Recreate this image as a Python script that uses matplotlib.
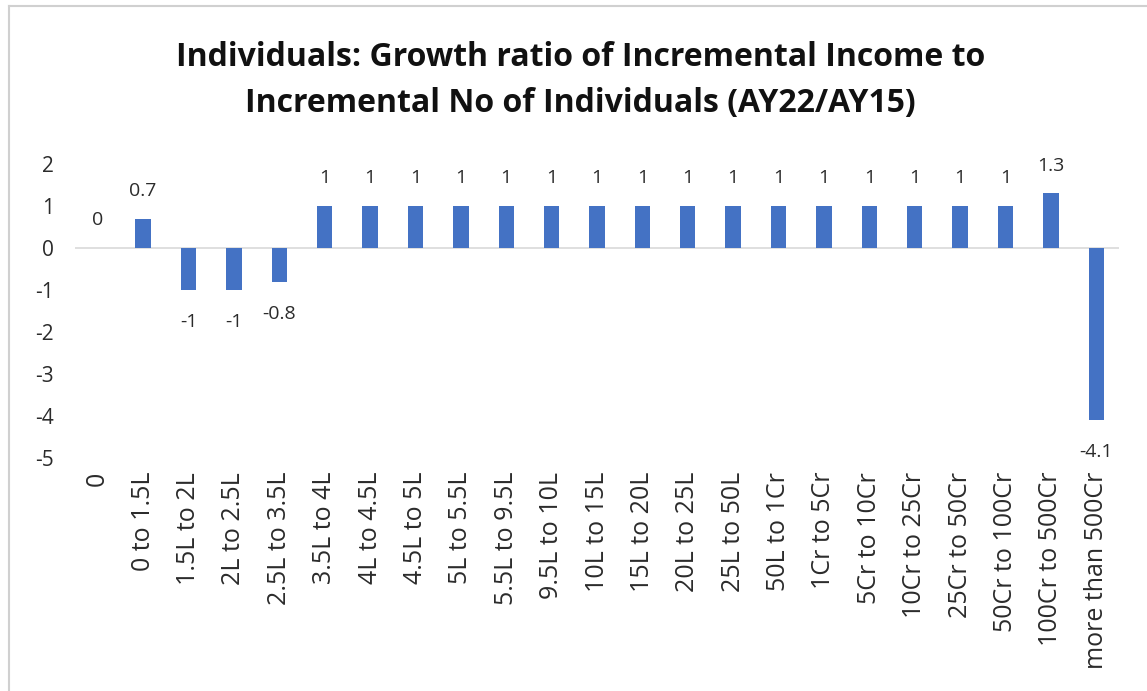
import matplotlib
matplotlib.use('Agg')
import matplotlib.pyplot as plt
from matplotlib.lines import Line2D
import numpy as np

# Income slabs and ratio of incremental income to incremental no. of individuals
slabs = ['0', '0 to 1.5L', '1.5L to 2L', '2L to 2.5L', '2.5L to 3.5L', '3.5L to 4L',
         '4L to 4.5L', '4.5L to 5L', '5L to 5.5L', '5.5L to 9.5L', '9.5L to 10L',
         '10L to 15L', '15L to 20L', '20L to 25L', '25L to 50L', '50L to 1Cr',
         '1Cr to 5Cr', '5Cr to 10Cr', '10Cr to 25Cr', '25Cr to 50Cr', '50Cr to 100Cr',
         '100Cr to 500Cr', 'more than 500Cr']
ratio = [0, 0.7, -1, -1, -0.8, 1, 1, 1, 1, 1, 1, 1, 1, 1, 1, 1, 1, 1, 1, 1, 1, 1.3, -4.1]

yticks = [-5, -4, -3, -2, -1, 0, 1, 2]

plt.rcParams['font.family'] = ['Open Sans', 'DejaVu Sans']

fig = plt.figure(figsize=(11.47, 6.91), dpi=100)
W, H = 1147, 691

ax = fig.add_axes([75 / W, 1 - 458 / H, 1044 / W, 294 / H])

x = np.arange(len(slabs))
ax.bar(x, ratio, width=0.34, color='#4472C4', zorder=3)
ax.axhline(0, color='#D9D9D9', linewidth=1.2, zorder=2)

for xi, v in zip(x, ratio):
    txt = '%g' % v
    if v >= 0:
        ax.annotate(txt, (xi, v), xytext=(0, 20), textcoords='offset points',
                    ha='center', va='center', fontsize=14, color='#2b2b2b')
    else:
        ax.annotate(txt, (xi, v), xytext=(0, -23), textcoords='offset points',
                    ha='center', va='center', fontsize=14, color='#2b2b2b')

ax.set_xlim(-0.5, len(slabs) - 0.5)
ax.set_ylim(-5, 2)
ax.set_yticks(yticks)
ax.set_yticklabels([str(t) for t in yticks], fontsize=15, color='#2b2b2b')
ax.set_xticks(x)
ax.set_xticklabels(slabs, rotation=90, fontsize=18, color='#2b2b2b', va='top')

ax.tick_params(axis='both', length=0)
ax.tick_params(axis='y', pad=15)
ax.tick_params(axis='x', pad=10)
for s in ax.spines.values():
    s.set_visible(False)

fig.text(0.506, 1 - 66 / H, 'Individuals: Growth ratio of Incremental Income to',
         ha='center', va='baseline', fontsize=23, fontweight='bold', color='#111111')
fig.text(0.506, 1 - 112 / H, 'Incremental No of Individuals (AY22/AY15)',
         ha='center', va='baseline', fontsize=23, fontweight='bold', color='#111111')

# light frame on the top and left edges of the chart area
fig.add_artist(Line2D([9 / W, 1], [1 - 6 / H, 1 - 6 / H], transform=fig.transFigure,
                      color='#D0D0D0', linewidth=1.5))
fig.add_artist(Line2D([9 / W, 9 / W], [0, 1 - 6 / H], transform=fig.transFigure,
                      color='#D0D0D0', linewidth=1.5))

fig.savefig('out.png', dpi=100)
